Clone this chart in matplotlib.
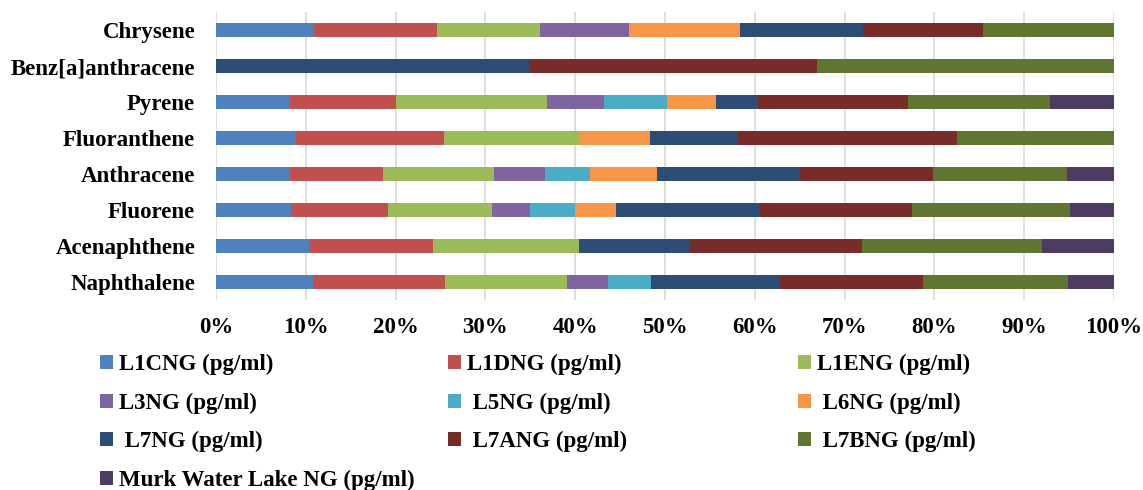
import numpy as np
import matplotlib.pyplot as plt
from matplotlib.patches import Patch

# categories bottom -> top
compounds = ['Naphthalene', 'Acenaphthene', 'Fluorene', 'Anthracene',
             'Fluoranthene', 'Pyrene', 'Benz[a]anthracene', 'Chrysene']

series = ['L1CNG (pg/ml)', 'L1DNG (pg/ml)', 'L1ENG (pg/ml)', 'L3NG (pg/ml)',
          ' L5NG (pg/ml)', ' L6NG (pg/ml)', ' L7NG (pg/ml)', ' L7ANG (pg/ml)',
          ' L7BNG (pg/ml)', 'Murk Water Lake NG (pg/ml)']

# percent share of each site, per compound (same order as compounds)
l1c = [10.8, 10.5, 8.3, 8.2, 8.9, 8.2, 0.0, 10.9]
l1d = [14.7, 13.7, 10.9, 10.4, 16.5, 11.8, 0.0, 13.7]
l1e = [13.6, 16.2, 11.5, 12.4, 15.1, 16.9, 0.0, 11.5]
l3 = [4.5, 0.0, 4.3, 5.6, 0.0, 6.3, 0.0, 9.9]
l5 = [4.8, 0.0, 5.0, 5.0, 0.0, 7.0, 0.0, 0.0]
l6 = [0.0, 0.0, 4.5, 7.5, 7.8, 5.5, 0.0, 12.4]
l7 = [14.4, 12.4, 16.1, 15.9, 9.8, 4.7, 34.9, 13.6]
l7a = [15.9, 19.1, 16.9, 14.8, 24.4, 16.7, 32.0, 13.4]
l7b = [16.2, 20.1, 17.6, 15.0, 17.5, 15.8, 33.1, 14.6]
murk = [5.1, 8.0, 4.9, 5.2, 0.0, 7.1, 0.0, 0.0]

colors = ['#4F81BD', '#C0504D', '#9BBB59', '#8064A2', '#4BACC6',
          '#F79646', '#2C4D75', '#772C2A', '#5F7530', '#4D3B62']

data = np.array([l1c, l1d, l1e, l3, l5, l6, l7, l7a, l7b, murk])
data = data / data.sum(axis=0) * 100

plt.rcParams['font.family'] = 'Liberation Serif'
plt.rcParams['font.weight'] = 'bold'

fig = plt.figure(figsize=(11.43, 4.90), dpi=100)
ax = fig.add_axes([216 / 1143, 1 - 300 / 490, 898 / 1143, 288 / 490])

y = np.arange(len(compounds))
left = np.zeros(len(compounds))
for vals, c in zip(data, colors):
    ax.barh(y, vals, left=left, height=0.4, color=c, zorder=3)
    left += vals

ax.set_xlim(0, 100)
ax.set_ylim(-0.5, len(compounds) - 0.5)
ax.set_xticks(np.arange(0, 101, 10))
ax.set_xticklabels([f'{v}%' for v in range(0, 101, 10)], fontsize=16.5, fontweight='bold')
ax.set_yticks(y)
ax.set_yticklabels(compounds, fontsize=16.5, fontweight='bold')
ax.tick_params(axis='both', length=0)
ax.tick_params(axis='y', pad=15)
ax.tick_params(axis='x', pad=12)
ax.grid(axis='x', color='#D9D9D9', linewidth=1.2, zorder=0)
for s in ax.spines.values():
    s.set_visible(False)

# legend laid out row by row in three columns
handles = [Patch(facecolor=c) for c in colors]
cols = [[0, 3, 6, 9], [1, 4, 7], [2, 5, 8]]
xs = [100, 448, 798]
for xi, idx in zip(xs, cols):
    fig.legend([handles[i] for i in idx], [series[i] for i in idx],
               loc='upper left', bbox_to_anchor=(xi / 1143, 1 - 354 / 490),
               frameon=False, prop={'weight': 'bold', 'size': 16.5},
               handlelength=0.55, handleheight=0.55, handletextpad=0.28,
               labelspacing=0.76, borderaxespad=0, borderpad=0)

fig.savefig('out.png', dpi=100)
